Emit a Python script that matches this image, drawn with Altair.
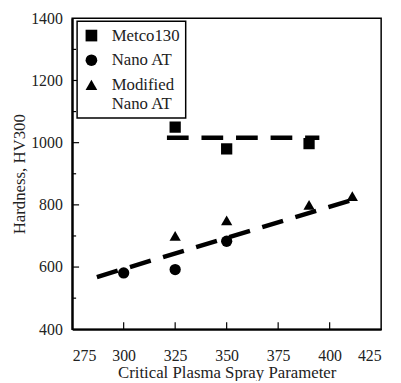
import altair as alt
import pandas as pd

# ---- data ----
metco_x = [325, 350, 390]
metco_y = [1050, 980, 997]
nano_x = [300, 325, 350]
nano_y = [581, 592, 683]
mod_x = [325, 350, 390, 411]
mod_y = [700, 750, 800, 828]

series_names = ["Metco130", "Nano AT", "Modified Nano AT"]
series_shapes = ["square", "circle", "triangle-up"]

fit_metco_x = [321, 395]
fit_metco_y = [1016, 1016]
fit_nano_x = [287, 414]
fit_nano_y = [568, 822]

x_major_ticks = [300, 325, 350, 375, 400]
y_major_ticks = [600, 800, 1000, 1200]
y_minor_ticks = [500, 700, 900, 1100, 1300]
x_label_values = [275, 300, 325, 350, 375, 400, 425]
y_label_values = [400, 600, 800, 1000, 1200, 1400]

rows = []
for name, xs, ys in [("Metco130", metco_x, metco_y),
                     ("Nano AT", nano_x, nano_y),
                     ("Modified Nano AT", mod_x, mod_y)]:
    for a, b in zip(xs, ys):
        rows.append({"series": name, "x": a, "y": b})
pts = pd.DataFrame(rows)

fits = pd.DataFrame(
    [{"fit": "metco", "x": a, "y": b} for a, b in zip(fit_metco_x, fit_metco_y)]
    + [{"fit": "nano", "x": a, "y": b} for a, b in zip(fit_nano_x, fit_nano_y)]
)

FONT = "Times New Roman"
W, H = 313, 315

xs = alt.Scale(domain=[275, 425], nice=False)
ys = alt.Scale(domain=[400, 1400], nice=False)

xaxis = alt.Axis(values=x_label_values, ticks=False, format="d",
                 labelPadding=19, grid=False, domainWidth=2.2, domainColor="black",
                 labelFont=FONT, titleFont=FONT,
                 title="Critical Plasma Spray Parameter", titlePadding=1)
yaxis = alt.Axis(values=y_label_values, ticks=False, format="d",
                 labelPadding=10, grid=False, domainWidth=2.2, domainColor="black",
                 labelFont=FONT, titleFont=FONT,
                 title="Hardness, HV300", titlePadding=2)

points = alt.Chart(pts).mark_point(filled=True, color="black", opacity=1, size=130).encode(
    x=alt.X("x:Q", scale=xs, axis=xaxis),
    y=alt.Y("y:Q", scale=ys, axis=yaxis),
    shape=alt.Shape("series:N",
                    scale=alt.Scale(domain=series_names, range=series_shapes),
                    legend=alt.Legend(
                        title=None, orient="none", legendX=5, legendY=3,
                        strokeColor="black", fillColor="white",
                        padding=6, rowPadding=6, symbolSize=140,
                        symbolFillColor="black", symbolStrokeColor="black",
                        labelFont=FONT, labelOffset=12, labelLimit=200,
                        labelExpr="datum.label == 'Modified Nano AT' ? ['Modified', 'Nano AT'] : datum.label",
                    )),
)

lines = alt.Chart(fits).mark_line(color="black", strokeWidth=4.5,
                                  strokeDash=[22, 13]).encode(
    x=alt.X("x:Q", scale=xs),
    y=alt.Y("y:Q", scale=ys),
    detail="fit:N",
)

xt = alt.Chart(pd.DataFrame({"v": x_major_ticks})).mark_rule(color="black", strokeWidth=1.2).encode(
    x=alt.X("v:Q", scale=xs), y=alt.value(H), y2=alt.value(H - 7))
yt = alt.Chart(pd.DataFrame({"v": y_major_ticks})).mark_rule(color="black", strokeWidth=1.2).encode(
    y=alt.Y("v:Q", scale=ys), x=alt.value(0), x2=alt.value(7))
ym = alt.Chart(pd.DataFrame({"v": y_minor_ticks})).mark_rule(color="black", strokeWidth=1.2).encode(
    y=alt.Y("v:Q", scale=ys), x=alt.value(0), x2=alt.value(4))

chart = alt.layer(points, lines, xt, yt, ym).properties(
    width=W, height=H,
    autosize=alt.AutoSizeParams(type="none"),
    padding={"left": 65, "top": 8, "right": 12, "bottom": 50},
).configure(
    background="white", font=FONT,
    style={"guide-label": {"font": FONT, "fontSize": 16, "fill": "#222"},
           "guide-title": {"font": FONT, "fontSize": 17, "fill": "#222"}},
).configure_view(
    stroke="black", strokeWidth=1.5
).configure_axis(
    labelFont=FONT, labelFontSize=16, labelColor="#222",
    titleFont=FONT, titleFontSize=17, titleFontWeight="normal", titleColor="#222",
).configure_legend(
    strokeWidth=1.5, labelFont=FONT, labelFontSize=17, labelColor="#222",
)

chart.save("out.html", embed_options={"renderer": "svg", "actions": False})
